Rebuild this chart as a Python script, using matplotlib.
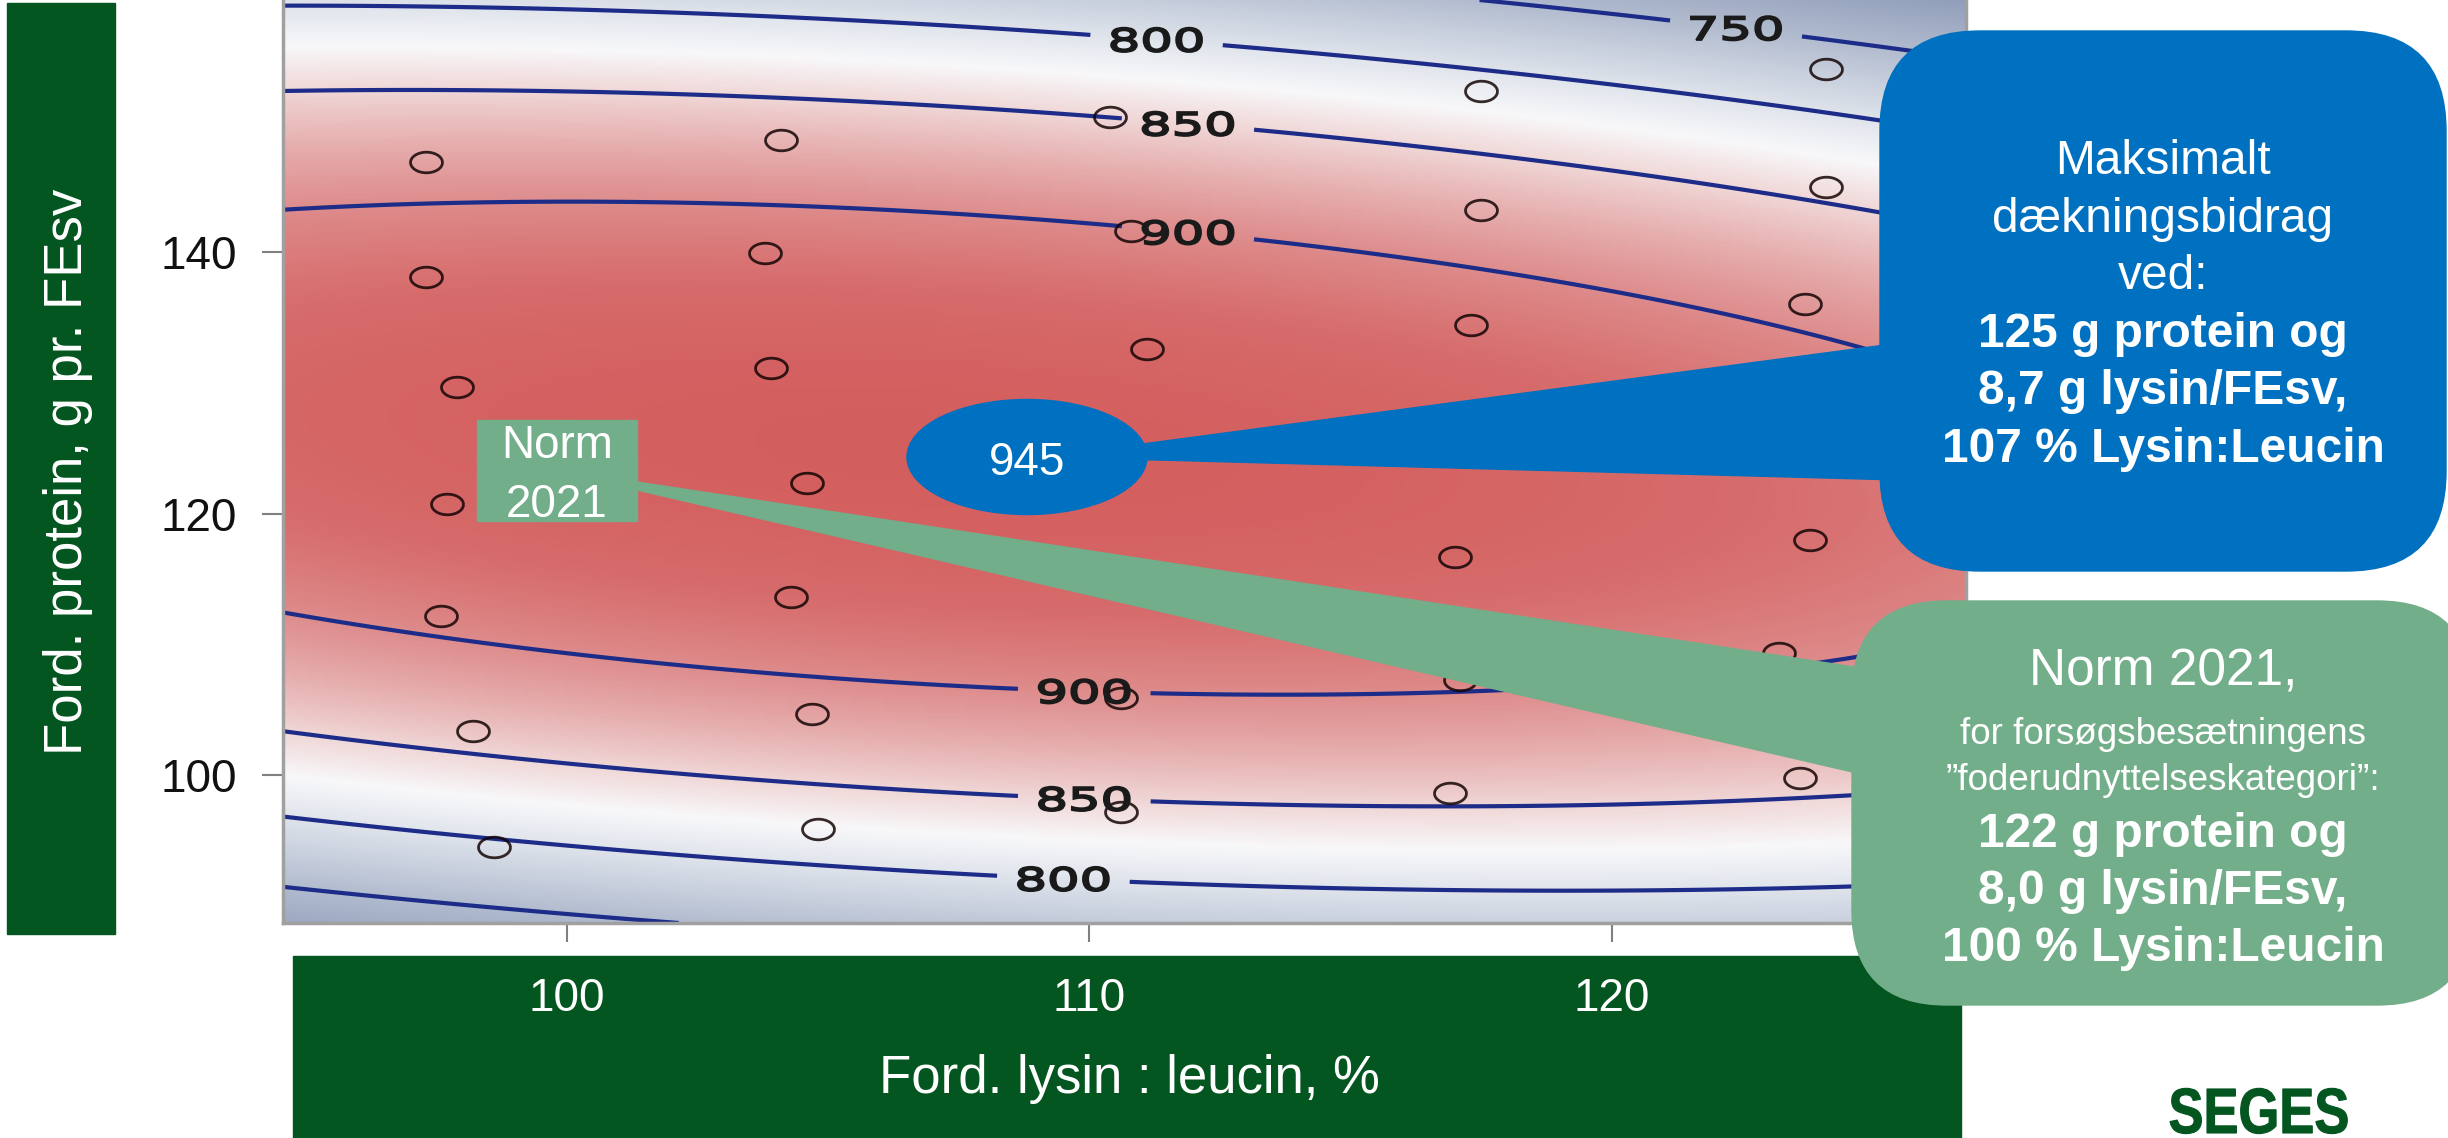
import numpy as np
import matplotlib
matplotlib.use('Agg')
import matplotlib.pyplot as plt
from matplotlib.colors import LinearSegmentedColormap, Normalize
from matplotlib.patches import FancyBboxPatch, Polygon, Ellipse, Rectangle, PathPatch
from matplotlib.path import Path
from matplotlib.textpath import TextPath
from matplotlib.font_manager import FontProperties
from matplotlib.transforms import Affine2D, IdentityTransform

plt.rcParams['font.family'] = ['Liberation Sans', 'DejaVu Sans']

# responsflade (kvadratisk model aflæst fra konturerne)
db_opt = 945.0        # dækningsbidrag i optimum
lys_opt = 106.9       # lysin:leucin, % i optimum
prot_opt = 125.0      # g protein i optimum
curv_lys = 0.0807     # fald pr. (%-point)^2
curv_prot = 0.138     # fald pr. (g)^2
ridge_slope = -0.23   # forskydning af protein-ryggen pr. %-point lysin

contour_levels = [750, 800, 850, 900]
label_lys = [122.4, 111.3, 111.9, 111.9, 109.9, 109.9, 109.5]
label_prot = [157.8, 156.8, 150.3, 141.9, 105.9, 97.6, 91.6]

# forsøgsled (cirkler)
pts_lys = [97.3, 97.3, 97.9, 97.7, 97.6, 98.2, 98.6,
           104.1, 103.8, 103.9, 104.6, 104.3, 104.7, 104.8,
           110.4, 110.8, 111.1, 110.6, 110.6,
           117.5, 117.5, 117.3, 117.0, 117.1, 116.9,
           124.1, 124.1, 123.7, 123.8, 123.2, 123.6]
pts_prot = [146.9, 138.1, 129.7, 120.7, 112.2, 103.4, 94.5,
            148.6, 139.9, 131.1, 122.3, 113.6, 104.7, 95.9,
            150.3, 141.6, 132.6, 105.9, 97.2,
            152.3, 143.2, 134.4, 116.7, 107.3, 98.6,
            154.0, 145.0, 136.0, 118.0, 109.3, 99.8]

x_ticks = [100, 110, 120]
y_ticks = [100, 120, 140]
x_range = (94.57, 126.78)
y_range = (88.68, 159.28)

cmap_vals = [700, 750, 790, 825, 850, 875, 900, 925, 950]
cmap_cols = ['#8E9CB8', '#B2BCCF', '#D6DCE6', '#F8F8FA', '#F0D6D6',
             '#E7B0B0', '#DE8C8C', '#D76C6C', '#D35B5B']

dark_green = '#03561F'
norm_green = '#72AE8A'
blue = '#0070C0'

W, H = 2448, 1138
fig = plt.figure(figsize=(W / 100, H / 100), dpi=100)


def path_text(s, x, y, size, sx, prop, color, ha='center', lw=0.8, zorder=2):
    # tekst som sti, så den kan strækkes vandret (x, y i pixel, y fra oven)
    tp = TextPath((0, 0), s, size=size, prop=prop)
    bb = tp.get_extents()
    if ha == 'center':
        dx, dy = -(bb.x0 + bb.x1) / 2, -(bb.y0 + bb.y1) / 2
    else:
        dx, dy = -bb.x0, 0
    tr = Affine2D().translate(dx, dy).scale(sx, 1).translate(x, H - y)
    fig.add_artist(PathPatch(tr.transform_path(tp), transform=IdentityTransform(),
                             facecolor=color, edgecolor=color, lw=lw, zorder=zorder))


# baggrund: grønne aksebokse
back = fig.add_axes([0, 0, 1, 1], zorder=0)
back.set_xlim(0, W)
back.set_ylim(H, 0)
back.axis('off')
back.add_patch(Rectangle((7, 3), 108, 931, color=dark_green))
back.add_patch(Rectangle((293, 956), 1668, 200, color=dark_green))
back.text(82, 472, 'Ford. protein, g pr. FEsv', rotation=90, rotation_mode='anchor',
          ha='center', va='baseline', color='white', fontsize=38)
back.text(1129, 1093, 'Ford. lysin : leucin, %', ha='center', va='baseline',
          color='white', fontsize=38)
path_text('SEGES', 2170, 1133, 64, 0.82,
          FontProperties(family='Liberation Sans', weight='bold'), dark_green, ha='left')

# selve konturplottet
ax = fig.add_axes([283 / W, 1 - 923 / H, (1966 - 283) / W, 923 / H], zorder=1)
xs = np.linspace(x_range[0], x_range[1], 400)
ys = np.linspace(y_range[0], y_range[1], 400)
XX, YY = np.meshgrid(xs, ys)
ZZ = (db_opt - curv_lys * (XX - lys_opt) ** 2
      - curv_prot * (YY - prot_opt - ridge_slope * (XX - lys_opt)) ** 2)

lo, hi = cmap_vals[0], cmap_vals[-1]
cmap = LinearSegmentedColormap.from_list(
    'db', [((v - lo) / (hi - lo), c) for v, c in zip(cmap_vals, cmap_cols)])
ax.imshow(ZZ, extent=[x_range[0], x_range[1], y_range[0], y_range[1]], origin='lower',
          aspect='auto', cmap=cmap, norm=Normalize(lo, hi), interpolation='bilinear')
cs = ax.contour(XX, YY, ZZ, levels=contour_levels, colors='#1C2C88', linewidths=3.0)
ax.clabel(cs, contour_levels, inline=True, inline_spacing=40, fontsize=22.7, fmt='%d',
          manual=list(zip(label_lys, label_prot)))

theta = np.linspace(0, 2 * np.pi, 64)
ell = Path(np.column_stack([1.55 * np.cos(theta), np.sin(theta)]))
ax.plot(pts_lys, pts_prot, ls='none', marker=ell, ms=23, mfc='none',
        mec=(0.08, 0.02, 0.02, 0.85), mew=2.0, zorder=3)

ax.set_xlim(*x_range)
ax.set_ylim(*y_range)
ax.set_xticks(x_ticks)
ax.set_yticks(y_ticks)
ax.tick_params(axis='y', length=15, width=1.5, color='#808080', pad=18,
               labelsize=33, labelcolor='#111111')
ax.tick_params(axis='x', length=13.7, width=1.5, color='#808080', pad=25,
               labelsize=33, labelcolor='white')
ax.spines['top'].set_visible(False)
for s in ['left', 'bottom', 'right']:
    ax.spines[s].set_color('#A0A0A0')
    ax.spines[s].set_linewidth(2.5)

# konturetiketter: strakt vandret som i originalen
lab_font = FontProperties(family='DejaVu Sans')
for t in cs.labelTexts:
    px, py = ax.transData.transform(t.get_position())
    t.set_visible(False)
    path_text(t.get_text(), px, H - py, 32, 1.6, lab_font, '#1A1A1A', lw=1.4)

# forgrund: callouts
front = fig.add_axes([0, 0, 1, 1], zorder=3)
front.set_xlim(0, W)
front.set_ylim(H, 0)
front.axis('off')

front.add_patch(Polygon([(637, 482), (1900, 674), (1900, 783), (637, 490)], color=norm_green))
front.add_patch(Rectangle((477, 420), 160, 101, color=norm_green))
front.text(557, 458, 'Norm', ha='center', va='baseline', color='white', fontsize=33)
front.text(557, 517, '2021', ha='center', va='baseline', color='white', fontsize=33)

front.add_patch(FancyBboxPatch((1852, 601), 620, 404, boxstyle='round,pad=0,rounding_size=95',
                               color=norm_green))
green_lines = ['Norm 2021,', 'for forsøgsbesætningens', '”foderudnyttelseskategori”:',
               '122 g protein og', '8,0 g lysin/FEsv,', '100 % Lysin:Leucin']
green_sizes = [37, 26.5, 26.5, 34.5, 34.5, 34.5]
green_base = [685, 744, 790, 847, 904, 961]
for i, line in enumerate(green_lines):
    front.text(2163, green_base[i], line, ha='center', va='baseline', color='white',
               fontsize=green_sizes[i], weight='bold' if i >= 3 else 'normal')

front.add_patch(Polygon([(1120, 447), (1900, 343), (1900, 480), (1120, 459)], color=blue))
front.add_patch(Ellipse((1027, 457), 240, 115, color=blue))
front.text(1027, 475, '945', ha='center', va='baseline', color='white', fontsize=33)

front.add_patch(FancyBboxPatch((1880, 31), 566, 540, boxstyle='round,pad=0,rounding_size=100',
                               color=blue))
blue_lines = ['Maksimalt', 'dækningsbidrag', 'ved:',
              '125 g protein og', '8,7 g lysin/FEsv,', '107 % Lysin:Leucin']
for i, line in enumerate(blue_lines):
    front.text(2163, 174 + i * 57.6, line, ha='center', va='baseline', color='white',
               fontsize=34.5, weight='bold' if i >= 3 else 'normal')

fig.savefig('out.png', dpi=100)
